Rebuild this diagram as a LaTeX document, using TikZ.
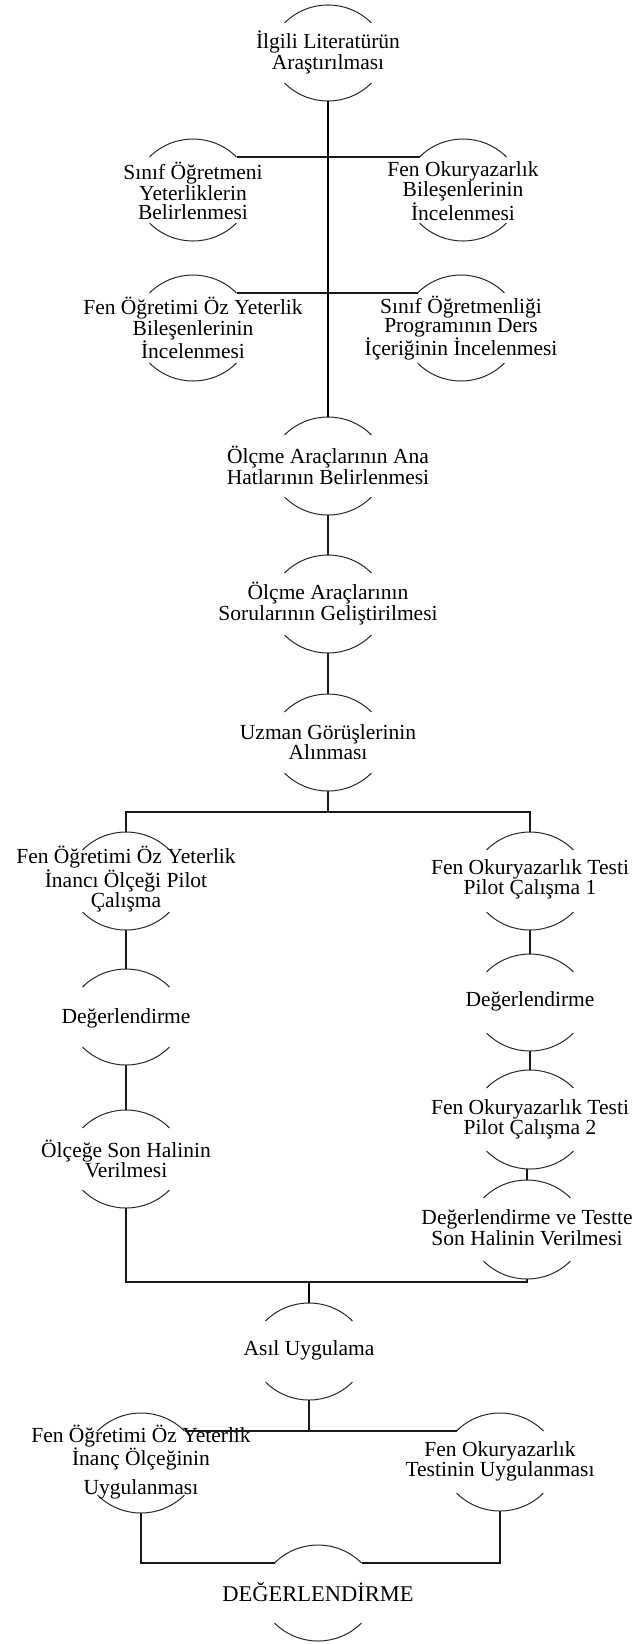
\documentclass[tikz,border=0pt]{standalone}
\usepackage{fontspec}
\setmainfont{Liberation Serif}
\tikzset{
  txt/.style={align=center, inner sep=0pt, font=\fontsize{21.5}{18.8}\selectfont},
  arcline/.style={line width=1pt, draw=black!85},
  conn/.style={line width=1.1pt, draw=black!90},
  trunk/.style={line width=1.6pt, draw=black}
}
\newcommand\anode[6]{%
  \node[txt] (#1) at (#2,-#5) {#6};
  \coordinate (#1-tl) at (#2-43.5,-#3);
  \coordinate (#1-tr) at (#2+43.5,-#3);
  \coordinate (#1-bl) at (#2-43.5,-#4);
  \coordinate (#1-br) at (#2+43.5,-#4);
  \coordinate (#1-t) at (#2,-#3+18);
  \coordinate (#1-b) at (#2,-#4-18);
  \draw[arcline] (#1-tl) arc[start angle=135,end angle=45,radius=61.5];
  \draw[arcline] (#1-bl) arc[start angle=225,end angle=315,radius=61.5];
}
\begin{document}
\begin{tikzpicture}[x=1pt,y=1pt]
\useasboundingbox (0,0) rectangle (636,-1644);
% top section
\anode{n1}{328}{23}{83}{52.5}{İlgili Literatürün\\Araştırılması}
\anode{l1}{193}{157}{223}{191}{Sınıf Öğretmeni\\Yeterliklerin\\Belirlenmesi}
\anode{r1}{463}{157}{223}{191}{Fen Okuryazarlık\\Bileşenlerinin\\İncelenmesi}
\anode{l2}{193}{293}{363}{328}{Fen Öğretimi Öz Yeterlik\\Bileşenlerinin\\İncelenmesi}
\anode{r2}{461}{293}{363}{328}{Sınıf Öğretmenliği\\Programının Ders\\İçeriğinin İncelenmesi}
\anode{m1}{328}{435}{497}{465.5}{Ölçme Araçlarının Ana\\Hatlarının Belirlenmesi}
\anode{m2}{328}{573}{635}{603.5}{Ölçme Araçlarının\\Sorularının Geliştirilmesi}
\anode{m3}{328}{712}{773}{742}{Uzman Görüşlerinin\\Alınması}
% left column
\anode{a}{126}{850}{912}{879.5}{Fen Öğretimi Öz Yeterlik\\İnancı Ölçeği Pilot\\Çalışma}
\anode{b}{126}{987}{1047}{1018}{Değerlendirme}
\anode{c}{126}{1128}{1190}{1159}{Ölçeğe Son Halinin\\Verilmesi}
% right column
\anode{d}{530}{850}{912}{879.5}{Fen Okuryazarlık Testi\\Pilot Çalışma 1}
\anode{e}{530}{972}{1033}{1001}{Değerlendirme}
\anode{f}{530}{1088}{1151}{1119.5}{Fen Okuryazarlık Testi\\Pilot Çalışma 2}
\anode{g}{527}{1198}{1261}{1227.5}{Değerlendirme ve Testte\\Son Halinin Verilmesi}
% bottom
\anode{asil}{309}{1321}{1382}{1350}{Asıl Uygulama}
\anode{h}{141}{1431}{1495}{1462}{Fen Öğretimi Öz Yeterlik\\İnanç Ölçeğinin\\[8pt]Uygulanması}
\anode{i}{500}{1431}{1493}{1461.5}{Fen Okuryazarlık\\Testinin Uygulanması}
\anode{deg}{318}{1563}{1623}{1592}{\fontsize{22.5}{22}\selectfont DEĞERLENDİRME}
\coordinate (s1) at (328,-812);
\coordinate (s2) at (309,-1282);
\coordinate (s3) at (309,-1431);
% connectors
\draw[trunk] (n1-b) -- (m1-t);
\draw[conn] (l1-tr) -- (r1-tl);
\draw[conn] (l2-tr) -- (r2-tl);
\draw[conn] (m1-b) -- (m2-t);
\draw[conn] (m2-b) -- (m3-t);
\draw[conn] (m3-b) -- (s1);
\draw[conn] (a-t) |- (s1) -| (d-t);
\draw[conn] (a-b) -- (b-t);
\draw[conn] (b-b) -- (c-t);
\draw[conn] (d-b) -- (e-t);
\draw[conn] (e-b) -- (f-t);
\draw[conn] (g-t) -- (g-t |- f-b);
\draw[conn] (c-b) |- (s2) -| (g-b);
\draw[trunk] (s2) -- (asil-t);
\draw[conn] (asil-b) -- (s3);
\draw[conn] (h-tr) -- (i-tl);
\draw[conn] (h-b) |- (deg-tl);
\draw[conn] (i-b) |- (deg-tr);
\end{tikzpicture}
\end{document}
